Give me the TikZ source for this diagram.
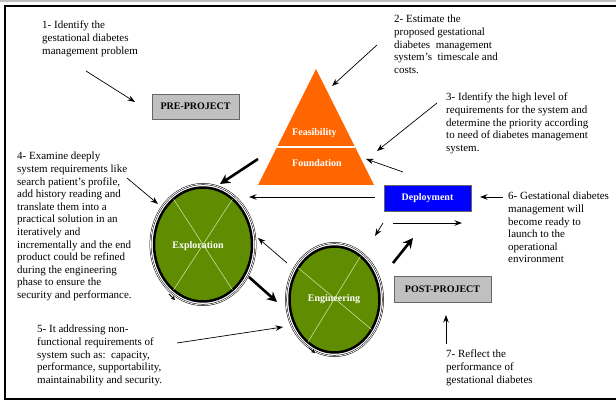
\documentclass[tikz,border=0pt]{standalone}
\usepackage{fontspec}
\setmainfont{Liberation Serif}
\usetikzlibrary{arrows.meta,shapes.geometric}

\definecolor{feasorange}{RGB}{255,102,0}
\definecolor{stagegreen}{RGB}{95,140,0}
\definecolor{crossgreen}{RGB}{200,222,160}
\definecolor{boxgray}{RGB}{192,192,192}
\definecolor{deployblue}{RGB}{0,0,255}

\begin{document}
\begin{tikzpicture}[x=1pt,y=-1pt,
        note/.style={anchor=north west,align=left,inner sep=0pt,font=\fontsize{11}{12.6}\selectfont},
        phase/.style={draw=black!60,fill=boxgray,inner sep=0pt,font=\bfseries\fontsize{10}{12}\selectfont},
        stage/.style={ellipse,draw=black,line width=2.5pt,fill=stagegreen,inner sep=0pt,text=white,font=\bfseries\fontsize{10}{12}\selectfont},
        ring/.style={line width=0.5pt,double=white,double distance=0.8pt},
        cross/.style={crossgreen,line width=0.6pt,shorten <=1.5pt,shorten >=1.5pt},
        pointer/.style={-{Stealth[length=7.5pt,width=5.5pt]},line width=0.7pt},
        bigpointer/.style={-{Stealth[length=10pt,width=10pt]},line width=2.6pt},
        tiptick/.style={-{Stealth[length=4pt,width=4pt]},line width=0.8pt}
    ]
        \clip (0,0) rectangle (616,401);

        % Frame
        \draw[gray!50,line width=2pt] (0,1) -- (616,1);
        \draw[line width=2pt] (5,6.5) rectangle (625,398.5);

        % Define the nodes
        \node[phase,minimum width=87pt,minimum height=25pt] (pre) at (195.5,106.5) {PRE-PROJECT};
        \node[phase,minimum width=97pt,minimum height=26pt] (post) at (442.5,289) {POST-PROJECT};
        \node[draw=black!60,fill=deployblue,text=white,inner sep=0pt,minimum width=87pt,minimum height=26pt,
              font=\bfseries\fontsize{10}{12}\selectfont] (dep) at (427.5,198) {Deployment};

        % Feasibility / foundation triangle
        \coordinate (tritop) at (316,69);
        \coordinate (trileft) at (258,185);
        \coordinate (triright) at (374,185);
        \fill[feasorange] (tritop) -- (triright) -- (trileft) -- cycle;
        \draw[white,line width=1.2pt] (277,147) -- (355,147);
        \node[anchor=west,text=white,inner sep=0pt,font=\bfseries\fontsize{10}{12}\selectfont] (feas) at (292,133) {Feasibility};
        \node[anchor=west,text=white,inner sep=0pt,font=\bfseries\fontsize{10}{12}\selectfont] (found) at (292,163) {Foundation};

        % Exploration and engineering iterations
        \node[stage,minimum width=98pt,minimum height=114pt] (expl) at (203,244.5) {};
        \draw[cross] (expl.57) -- (expl.237);
        \draw[cross] (expl.123) -- (expl.303);
        \draw[ring] (expl.center) ellipse [x radius=52.5, y radius=60.5];
        \node[text=white,inner sep=0pt,font=\bfseries\fontsize{10}{12}\selectfont] (expltext) at (198,246) {Exploration};

        \node[stage,minimum width=90pt,minimum height=106pt] (eng) at (334.5,299.5) {};
        \draw[cross] (eng.139) -- (eng.321);
        \draw[cross] (eng.59) -- (eng.238);
        \draw[ring] (eng.center) ellipse [x radius=48.5, y radius=56.5];
        \node[text=white,inner sep=0pt,font=\bfseries\fontsize{10}{12}\selectfont] (engtext) at (334,299) {Engineering};

        % Notes
        \node[note] (n1) at (42,21) {1- Identify the\\gestational diabetes\\management problem};
        \node[note] (n2) at (394,15) {2- Estimate the\\proposed gestational\\diabetes\ \ management\\system's\ \ timescale and\\costs.};
        \node[note] (n3) at (446,93) {3- Identify the high level of\\requirements for the system and\\determine the priority according\\to need of diabetes management\\system.};
        \node[note] (n4) at (17,152) {4- Examine deeply\\system requirements like\\search patient's profile,\\add history reading and\\translate them into a\\practical solution in an\\iteratively and\\incrementally and the end\\product could be refined\\during the engineering\\phase to ensure the\\security and performance.};
        \node[note] (n5) at (37,325) {5- It addressing non-\\functional requirements of\\system such as:\ \ capacity,\\performance, supportability,\\maintainability and security.};
        \node[note] (n6) at (508,192) {6- Gestational diabetes\\management will\\become ready to\\launch to the\\operational\\environment};
        \node[note] (n7) at (446,350) {7- Reflect the\\performance of\\gestational diabetes};

        % Arrow ends
        \coordinate (a1s) at (86,71);   \coordinate (a1e) at (135,102);
        \coordinate (a2s) at (377,45);  \coordinate (a2e) at (332,86);
        \coordinate (a3s) at (437,103); \coordinate (a3e) at (377,151);
        \coordinate (a4s) at (403,172); \coordinate (a4e) at (366,159);
        \coordinate (a5s) at (258,159); \coordinate (a5e) at (220,184);
        \coordinate (a6s) at (375,197); \coordinate (a6e) at (249,197);
        \coordinate (a7s) at (127,178); \coordinate (a7e) at (158,204);
        \coordinate (a8s) at (287,263); \coordinate (a8e) at (258,238);
        \coordinate (a9s) at (249,277); \coordinate (a9e) at (277,302);
        \coordinate (a10s) at (177,343); \coordinate (a10e) at (283,327);
        \coordinate (a11s) at (383,223); \coordinate (a11e) at (375,236);
        \coordinate (a12s) at (393,223); \coordinate (a12e) at (462,223);
        \coordinate (a13s) at (393,263); \coordinate (a13e) at (413,238);
        \coordinate (a14s) at (503,197); \coordinate (a14e) at (480,197);
        \coordinate (a15s) at (446,344); \coordinate (a15e) at (446,315);

        % Draw the arrows
        \draw[pointer] (a1s) -- (a1e);
        \draw[pointer] (a2s) -- (a2e);
        \draw[pointer] (a3s) -- (a3e);
        \draw[pointer] (a4s) -- (a4e);
        \draw[bigpointer] (a5s) -- (a5e);
        \draw[pointer,line width=1pt] (a6s) -- (a6e);
        \draw[pointer] (a7s) -- (a7e);
        \draw[pointer] (a8s) -- (a8e);
        \draw[bigpointer] (a9s) -- (a9e);
        \draw[pointer] (a10s) -- (a10e);
        \draw[pointer] (a11s) -- (a11e);
        \draw[pointer,line width=1pt] (a12s) -- (a12e);
        \draw[bigpointer] (a13s) -- (a13e);
        \draw[pointer,line width=1pt] (a14s) -- (a14e);
        \draw[pointer] (a15s) -- (a15e);

        % Small ticks on the rings
        \coordinate (x1s) at (169,294); \coordinate (x1e) at (175,300);
        \coordinate (x2s) at (309,348); \coordinate (x2e) at (315,353);
        \draw[tiptick] (x1s) -- (x1e);
        \draw[tiptick] (x2s) -- (x2e);
    \end{tikzpicture}
\end{document}
